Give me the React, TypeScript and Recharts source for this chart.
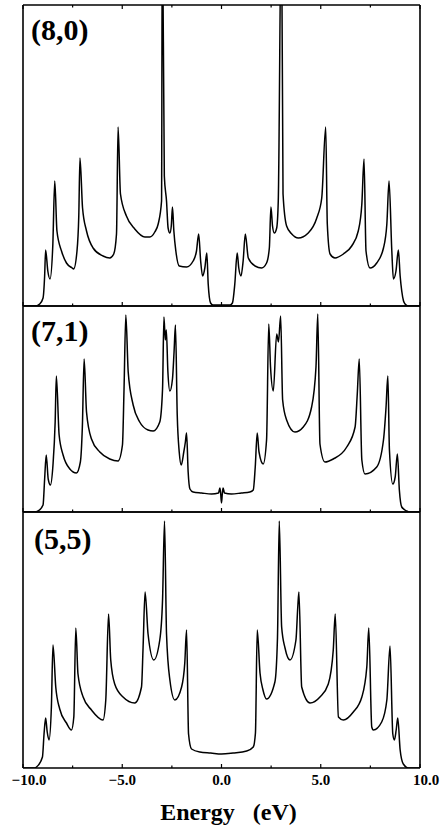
import { LineChart, Line, XAxis, YAxis } from "recharts";

// energy grid (eV) and density of states, per tube
const ENERGY_80 = [
  -10.0, -9.36, -9.16, -8.99, -8.91, -8.86, -8.75, -8.64, -8.5, -8.4, -8.29, -8.06, -7.81, -7.52, -7.45,
  -7.28, -7.19, -7.13, -7.0, -6.8, -6.47, -5.97, -5.63, -5.43, -5.29, -5.21, -5.09, -4.79, -4.37, -3.86,
  -3.61, -3.36, -3.19, -3.02, -2.98, -2.88, -2.77, -2.69, -2.6, -2.53, -2.47, -2.4, -2.3, -2.13, -1.76,
  -1.43, -1.26, -1.15, -1.05, -0.95, -0.84, -0.74, -0.67, -0.55, -0.43, 0.0, 0.43, 0.55, 0.67, 0.79,
  0.87, 0.98, 1.09, 1.2, 1.35, 1.69, 2.02, 2.27, 2.41, 2.49, 2.57, 2.66, 2.78, 2.86, 3.02,
  3.1, 3.28, 3.54, 3.87, 4.37, 4.8, 5.05, 5.25, 5.33, 5.47, 5.72, 6.14, 6.56, 6.89, 7.07,
  7.18, 7.28, 7.48, 7.82, 8.16, 8.33, 8.44, 8.58, 8.66, 8.79, 8.91, 9.0, 9.08, 9.17, 9.25,
  9.4, 10.0,
];
const DOS_80 = [
  0, 0, 0.02, 0.08, 0.3, 0.56, 0.35, 0.27, 0.6, 1.25, 0.75, 0.55, 0.43, 0.38, 0.37,
  0.55, 0.9, 1.48, 0.98, 0.75, 0.58, 0.5, 0.48, 0.52, 0.72, 1.79, 1.12, 0.9, 0.77, 0.69,
  0.69, 0.74, 0.82, 1.05, 4.0, 1.3, 1.05, 0.78, 0.73, 0.8, 0.99, 0.75, 0.55, 0.4, 0.39,
  0.45, 0.55, 0.72, 0.45, 0.3, 0.38, 0.53, 0.22, 0.03, 0.01, 0.01, 0.01, 0.03, 0.22, 0.53,
  0.38, 0.3, 0.45, 0.72, 0.48, 0.4, 0.38, 0.43, 0.58, 0.99, 0.8, 0.73, 0.78, 1.05, 4.0,
  1.12, 0.8, 0.72, 0.68, 0.73, 0.88, 1.08, 1.79, 0.82, 0.52, 0.48, 0.52, 0.6, 0.75, 1.02,
  1.47, 0.55, 0.38, 0.43, 0.58, 0.82, 1.25, 0.55, 0.27, 0.35, 0.56, 0.3, 0.15, 0.05, 0.02,
  0, 0,
];

const ENERGY_71 = [
  -10.0, -9.4, -9.24, -8.99, -8.91, -8.83, -8.73, -8.62, -8.49, -8.38, -8.32, -8.18, -7.98, -7.64, -7.31,
  -7.11, -7.01, -6.92, -6.8, -6.55, -6.13, -5.63, -5.21, -4.99, -4.91, -4.82, -4.7, -4.45, -4.12, -3.7,
  -3.44, -3.11, -2.97, -2.9, -2.83, -2.78, -2.7, -2.6, -2.47, -2.39, -2.32, -2.23, -2.13, -2.03, -1.9,
  -1.82, -1.76, -1.68, -1.59, -1.43, -1.0, -0.5, -0.15, -0.08, -0.04, 0.0, 0.04, 0.08, 0.15, 0.5,
  1.0, 1.43, 1.6, 1.7, 1.8, 1.89, 2.1, 2.27, 2.38, 2.47, 2.61, 2.78, 2.87, 2.98, 3.08,
  3.28, 3.7, 4.12, 4.54, 4.76, 4.85, 4.96, 5.21, 5.63, 6.31, 6.73, 6.84, 6.94, 7.07, 7.23,
  7.82, 8.16, 8.29, 8.38, 8.46, 8.63, 8.75, 8.86, 8.96, 9.08, 9.33, 9.45, 10.0,
];
const DOS_71 = [
  0, 0, 0.01, 0.07, 0.33, 0.57, 0.33, 0.27, 0.47, 0.9, 1.36, 0.77, 0.57, 0.43, 0.39,
  0.5, 0.85, 1.53, 1.0, 0.73, 0.6, 0.53, 0.51, 0.67, 1.23, 1.97, 1.4, 1.07, 0.9, 0.82,
  0.81, 0.9, 1.23, 1.95, 1.72, 1.82, 1.4, 1.21, 1.33, 1.6, 1.87, 0.97, 0.6, 0.47, 0.6,
  0.7, 0.79, 0.4, 0.23, 0.2, 0.19, 0.18, 0.19, 0.24, 0.18, 0.09, 0.18, 0.24, 0.19, 0.18,
  0.19, 0.2, 0.22, 0.45, 0.79, 0.6, 0.48, 0.72, 1.88, 1.45, 1.21, 1.78, 1.7, 1.96, 1.12,
  0.92, 0.8, 0.85, 1.05, 1.45, 1.98, 0.68, 0.5, 0.53, 0.65, 0.85, 1.18, 1.53, 0.52, 0.38,
  0.45, 0.72, 1.05, 1.36, 0.62, 0.28, 0.35, 0.58, 0.22, 0.05, 0.01, 0, 0,
];

const ENERGY_55 = [
  -10.0, -9.45, -9.32, -9.02, -8.94, -8.86, -8.78, -8.69, -8.57, -8.49, -8.35, -8.15, -7.81, -7.56, -7.44,
  -7.34, -7.23, -6.97, -6.55, -5.97, -5.83, -5.69, -5.58, -5.38, -4.96, -4.37, -4.03, -3.95, -3.85, -3.7,
  -3.41, -3.11, -2.97, -2.87, -2.77, -2.6, -2.35, -2.01, -1.85, -1.76, -1.66, -1.51, -1.09, -0.54, 0.0,
  0.58, 1.27, 1.6, 1.71, 1.8, 1.94, 2.09, 2.27, 2.69, 2.82, 2.91, 3.03, 3.2, 3.45, 3.75,
  3.84, 3.9, 4.04, 4.46, 4.96, 5.38, 5.63, 5.73, 5.89, 6.14, 6.64, 7.07, 7.32, 7.42, 7.57,
  7.65, 8.07, 8.33, 8.49, 8.63, 8.71, 8.8, 8.88, 9.0, 9.16, 9.42, 10.0,
];
const DOS_55 = [
  0, 0, 0.01, 0.11, 0.34, 0.5, 0.36, 0.28, 0.61, 1.23, 0.81, 0.59, 0.45, 0.38, 0.51,
  1.4, 0.94, 0.71, 0.58, 0.48, 0.68, 1.54, 1.08, 0.84, 0.71, 0.65, 0.81, 1.21, 1.76, 1.34,
  1.08, 1.28, 1.68, 2.47, 1.34, 0.88, 0.68, 0.81, 1.05, 1.38, 0.34, 0.19, 0.16, 0.15, 0.14,
  0.15, 0.17, 0.21, 0.35, 1.38, 0.95, 0.78, 0.69, 0.86, 1.3, 2.47, 1.41, 1.2, 1.08, 1.28,
  1.6, 1.76, 0.81, 0.65, 0.71, 0.84, 1.18, 1.54, 0.51, 0.48, 0.56, 0.71, 1.01, 1.4, 0.41,
  0.38, 0.46, 0.68, 1.22, 0.34, 0.28, 0.38, 0.5, 0.18, 0.04, 0, 0,
];

const TICKS = [-10, -7.5, -5, -2.5, 0, 2.5, 5, 7.5, 10];
const MAJOR_TICKS = [-10, -5, 0, 5, 10];
const MAJOR_LABELS = ["\u221210.0", "\u22125.0", "0.0", "5.0", "10.0"];

const SERIF = '"Liberation Serif", "Times New Roman", serif';
const AXIS_LINE = { stroke: "#000", strokeWidth: 1.6 };

function BottomTick(props: any) {
  const { x, y, payload, showLabel } = props;
  const v = payload.value;
  const idx = MAJOR_TICKS.indexOf(v);
  const len = idx >= 0 ? 4 : 2.5;
  const shift = Math.abs(v) === 10 ? 6 : 0;
  return (
    <g>
      <line x1={x} x2={x} y1={y} y2={y - len} stroke="#000" strokeWidth={1.2} />
      {showLabel && idx >= 0 && (
        <text
          x={x + shift}
          y={y + 17}
          textAnchor="middle"
          fontFamily={SERIF}
          fontWeight="bold"
          fontSize={15}
          fill="#000"
        >
          {MAJOR_LABELS[idx]}
        </text>
      )}
    </g>
  );
}

function TopTick(props: any) {
  const { x, y, payload } = props;
  const len = MAJOR_TICKS.includes(payload.value) ? 4 : 2.5;
  return <line x1={x} x2={x} y1={y} y2={y + len} stroke="#000" strokeWidth={1.2} />;
}

interface PanelProps {
  energy: number[];
  dos: number[];
  yMax: number;
  top: number;
  plotTop: number;
  plotH: number;
  axisH: number;
  topTicks: boolean;
  showLabels: boolean;
}

// axes need at least 1px of room or they are not drawn, so margins are 1px short
function Panel({ energy, dos, yMax, top, plotTop, plotH, axisH, topTicks, showLabels }: PanelProps) {
  const data = energy.map((e, i) => ({ e, d: dos[i] }));
  const marginTop = plotTop - 1;
  const bottom = axisH > 1 ? 0 : 1;
  return (
    <div style={{ position: "absolute", left: 0, top }}>
      <LineChart
        width={441}
        height={plotTop + plotH + axisH + bottom}
        data={data}
        margin={{ top: marginTop, right: 20, bottom, left: 22 }}
      >
        <XAxis
          dataKey="e"
          type="number"
          domain={[-10, 10]}
          ticks={TICKS}
          interval={0}
          height={axisH}
          tickSize={0}
          tickMargin={0}
          tickLine={false}
          axisLine={AXIS_LINE}
          tick={(p: any) => <BottomTick {...p} showLabel={showLabels} />}
          label={
            showLabels
              ? {
                  value: "Energy\u00a0\u00a0 (eV)",
                  position: "insideBottom",
                  offset: 5,
                  dx: 7,
                  fontFamily: SERIF,
                  fontWeight: "bold",
                  fontSize: 24,
                  fill: "#000",
                }
              : undefined
          }
        />
        <XAxis
          xAxisId="top"
          dataKey="e"
          orientation="top"
          type="number"
          domain={[-10, 10]}
          ticks={TICKS}
          interval={0}
          height={1}
          tickSize={0}
          tickMargin={0}
          tickLine={false}
          axisLine={AXIS_LINE}
          tick={topTicks ? (p: any) => <TopTick {...p} /> : false}
        />
        <YAxis
          type="number"
          domain={[0, yMax]}
          allowDataOverflow
          width={1}
          tick={false}
          tickLine={false}
          axisLine={AXIS_LINE}
        />
        <YAxis
          yAxisId="r"
          orientation="right"
          type="number"
          domain={[0, yMax]}
          width={1}
          tick={false}
          tickLine={false}
          axisLine={AXIS_LINE}
        />
        {/* invisible copy so the top axis has a series bound to it */}
        <Line
          xAxisId="top"
          type="monotone"
          dataKey="d"
          stroke="none"
          dot={false}
          activeDot={false}
          isAnimationActive={false}
        />
        <Line
          type="monotone"
          dataKey="d"
          stroke="#000"
          strokeWidth={1.5}
          dot={false}
          isAnimationActive={false}
        />
      </LineChart>
    </div>
  );
}

export default function App() {
  return (
    <div style={{ position: "absolute", left: 0, top: 0, width: 441, height: 825, background: "#fff" }}>
      <Panel energy={ENERGY_80} dos={DOS_80} yMax={3.01} top={0} plotTop={5} plotH={301} axisH={1} topTicks showLabels={false} />
      <Panel energy={ENERGY_71} dos={DOS_71} yMax={2.06} top={305} plotTop={1} plotH={206} axisH={1} topTicks={false} showLabels={false} />
      <Panel energy={ENERGY_55} dos={DOS_55} yMax={2.56} top={511} plotTop={1} plotH={256} axisH={57} topTicks={false} showLabels />
      <svg width={441} height={825} style={{ position: "absolute", left: 0, top: 0, pointerEvents: "none" }}>
        <g fontFamily={SERIF} fontWeight="bold" fontSize={30} fill="#000">
          <text x={31} y={40}>(8,0)</text>
          <text x={31} y={341}>(7,1)</text>
          <text x={34} y={549}>(5,5)</text>
        </g>
      </svg>
    </div>
  );
}
